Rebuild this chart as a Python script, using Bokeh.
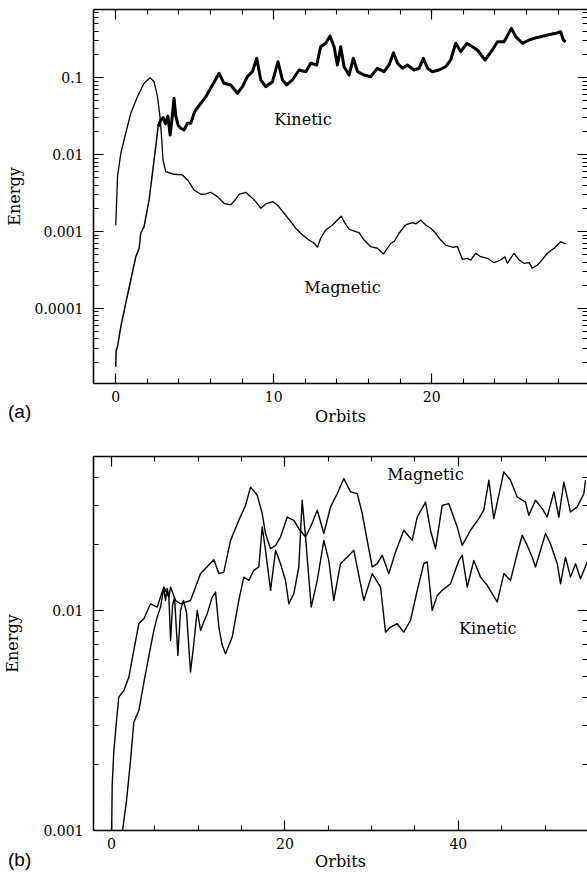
from bokeh.plotting import figure
from bokeh.layouts import column
from bokeh.models import (LinearAxis, LogAxis, FixedTicker, SingleIntervalTicker,
                          CustomJSTickFormatter, Label, Range1d, Div)
from bokeh.embed import file_html
from bokeh.resources import INLINE

# ---------------- data (x in orbits, value = log10 of energy) ----------------
# Panel (a)
mag_a = [(0.00, -2.918), (0.11, -2.287), (0.32, -1.983), (0.63, -1.723), (0.95, -1.463),
         (1.37, -1.247), (1.79, -1.073), (2.17, -1.000), (2.42, -1.052), (2.64, -1.247),
         (2.80, -1.507), (2.91, -1.810), (2.99, -2.070), (3.16, -2.222), (3.69, -2.256),
         (4.22, -2.265), (4.54, -2.330), (4.96, -2.460), (5.38, -2.516), (5.70, -2.512),
         (6.01, -2.490), (6.44, -2.547), (6.85, -2.633), (7.28, -2.655), (7.59, -2.581),
         (7.80, -2.516), (8.23, -2.490), (8.54, -2.547), (8.86, -2.612), (9.18, -2.698),
         (9.49, -2.642), (9.92, -2.612), (10.23, -2.655), (10.65, -2.763), (11.08, -2.873),
         (11.39, -2.958), (11.82, -3.046), (12.23, -3.111), (12.55, -3.153), (12.77, -3.205),
         (12.97, -3.088), (13.29, -2.980), (13.72, -2.915), (14.03, -2.851), (14.28, -2.798),
         (14.45, -2.873), (14.77, -2.971), (15.19, -3.003), (15.40, -3.016), (15.72, -3.111),
         (16.14, -3.198), (16.56, -3.218), (16.94, -3.293), (17.20, -3.218), (17.41, -3.153),
         (17.61, -3.133), (17.93, -3.023), (18.35, -2.915), (18.78, -2.886), (18.99, -2.902),
         (19.30, -2.851), (19.62, -2.915), (19.94, -2.958), (20.25, -3.023), (20.57, -3.111),
         (20.89, -3.176), (21.31, -3.205), (21.63, -3.198), (21.94, -3.362), (22.26, -3.349),
         (22.47, -3.371), (22.78, -3.283), (23.10, -3.328), (23.52, -3.349), (23.94, -3.406),
         (24.37, -3.371), (24.62, -3.328), (24.79, -3.414), (25.21, -3.283), (25.53, -3.371),
         (25.84, -3.414), (26.16, -3.406), (26.37, -3.479), (26.69, -3.436), (27.01, -3.362),
         (27.32, -3.283), (27.74, -3.218), (28.16, -3.133), (28.48, -3.163)]

# kinetic energy, early growth phase (thin trace in the original)
kin_a_early = [(0.00, -4.76), (0.02, -4.55), (0.11, -4.498), (0.32, -4.238), (0.63, -3.934),
               (0.95, -3.631), (1.27, -3.328), (1.48, -3.218), (1.58, -3.023), (1.79, -2.938),
               (2.11, -2.590), (2.32, -2.243), (2.53, -1.897), (2.68, -1.637)]

# kinetic energy, saturated turbulent phase (thick, noisy trace)
kin_a_late = [(2.68, -1.637), (2.85, -1.550),
              (3.00, -1.520), (3.15, -1.600), (3.30, -1.500), (3.44, -1.745), (3.55, -1.550),
              (3.69, -1.268), (3.80, -1.500), (3.95, -1.620), (4.11, -1.658), (4.32, -1.680),
              (4.54, -1.593), (4.75, -1.593), (4.96, -1.463), (5.06, -1.420), (5.38, -1.333),
              (5.70, -1.247), (6.12, -1.095), (6.54, -0.943), (6.85, -1.073), (7.28, -1.095),
              (7.70, -1.203), (8.02, -1.117), (8.33, -0.987), (8.65, -0.922), (8.92, -0.748),
              (9.18, -1.030), (9.49, -1.117), (9.92, -1.052), (10.27, -0.792), (10.55, -1.030),
              (10.82, -1.095), (11.18, -1.030), (11.60, -0.900), (12.03, -0.922), (12.34, -0.813),
              (12.72, -0.835), (12.97, -0.597), (13.29, -0.553), (13.56, -0.458), (13.82, -0.597),
              (14.03, -0.835), (14.24, -0.597), (14.45, -0.857), (14.77, -0.965), (15.04, -0.748),
              (15.30, -0.922), (15.72, -0.965), (16.14, -0.987), (16.56, -0.878), (16.98, -0.922),
              (17.30, -0.835), (17.58, -0.675), (17.83, -0.813), (18.15, -0.878), (18.46, -0.835),
              (18.88, -0.900), (19.20, -0.878), (19.47, -0.748), (19.73, -0.878), (20.04, -0.922),
              (20.46, -0.900), (20.89, -0.857), (21.20, -0.770), (21.52, -0.553), (21.84, -0.662),
              (22.22, -0.553), (22.58, -0.597), (22.89, -0.640), (23.37, -0.770), (23.84, -0.640),
              (24.16, -0.532), (24.58, -0.532), (25.04, -0.358), (25.32, -0.467), (25.74, -0.553),
              (26.16, -0.510), (26.47, -0.488), (26.90, -0.467), (27.32, -0.445), (27.85, -0.423),
              (28.16, -0.402), (28.33, -0.510), (28.48, -0.532)]

# Panel (b)
mag_b = [(0.00, -3.05), (0.08, -2.788), (0.27, -2.636), (0.58, -2.500), (0.84, -2.394),
         (1.42, -2.364), (2.00, -2.303), (2.57, -2.182), (3.15, -2.060), (3.73, -2.038),
         (4.50, -1.970), (5.27, -1.985), (6.03, -1.894), (6.61, -1.940), (6.81, -1.894),
         (7.38, -1.955), (7.96, -1.970), (9.11, -1.955), (10.27, -1.833), (10.84, -1.810),
         (11.80, -1.770), (12.38, -1.833), (12.95, -1.826), (13.73, -1.682), (14.68, -1.591),
         (15.46, -1.523), (16.03, -1.440), (16.81, -1.477), (17.38, -1.560), (17.76, -1.651),
         (18.34, -1.720), (18.92, -1.705), (19.49, -1.667), (20.27, -1.576), (21.03, -1.591),
         (21.60, -1.629), (22.38, -1.667), (22.95, -1.621), (23.73, -1.545), (24.49, -1.651),
         (25.26, -1.530), (26.03, -1.470), (26.79, -1.401), (27.57, -1.462), (28.34, -1.470),
         (28.92, -1.560), (29.49, -1.682), (30.07, -1.803), (30.65, -1.788), (31.22, -1.750),
         (31.98, -1.833), (32.76, -1.735), (33.71, -1.636), (34.68, -1.682), (35.26, -1.576),
         (36.22, -1.508), (36.79, -1.636), (37.37, -1.720), (38.14, -1.523), (38.90, -1.515),
         (39.87, -1.621), (40.45, -1.705), (41.41, -1.636), (42.36, -1.583), (42.94, -1.545),
         (43.52, -1.409), (44.09, -1.583), (45.25, -1.371), (46.02, -1.409), (46.79, -1.485),
         (47.75, -1.508), (48.13, -1.568), (48.90, -1.500), (49.68, -1.538), (50.25, -1.576),
         (51.02, -1.462), (51.59, -1.576), (52.17, -1.417), (52.94, -1.553), (53.71, -1.530),
         (54.48, -1.470), (54.67, -1.409)]

kin_b = [(1.10, -3.05), (1.73, -2.864), (2.19, -2.682), (2.57, -2.508), (3.15, -2.455),
         (3.81, -2.310), (4.50, -2.167), (4.88, -2.091), (5.27, -2.030), (5.65, -1.985),
         (6.03, -1.900), (6.23, -1.955), (6.42, -1.900), (6.61, -1.936), (6.81, -2.136),
         (7.04, -1.977), (7.27, -1.941), (7.65, -2.205), (7.96, -2.000), (8.30, -1.955),
         (8.65, -2.009), (9.11, -2.280), (9.49, -2.151), (9.88, -2.000), (10.27, -2.091),
         (10.61, -2.055), (11.04, -2.015), (11.61, -1.940), (12.00, -1.917), (12.38, -2.076),
         (12.77, -2.159), (13.15, -2.197), (13.92, -2.121), (14.68, -1.955), (15.26, -1.849),
         (15.84, -1.864), (16.41, -1.818), (16.99, -1.803), (17.38, -1.621), (17.76, -1.727),
         (18.34, -1.909), (18.92, -1.727), (19.49, -1.788), (20.07, -1.864), (20.45, -1.970),
         (21.03, -1.924), (21.60, -1.803), (21.99, -1.500), (22.38, -1.667), (23.03, -1.985),
         (23.73, -1.864), (24.49, -1.682), (25.06, -1.773), (25.64, -1.955), (26.41, -1.788),
         (27.19, -1.758), (27.95, -1.727), (29.10, -1.955), (30.07, -1.833), (31.03, -1.894),
         (31.60, -2.099), (32.18, -2.076), (32.95, -2.060), (33.71, -2.099), (34.49, -2.045),
         (35.26, -1.909), (36.02, -1.788), (36.41, -1.780), (36.99, -2.000), (37.57, -1.932),
         (38.14, -1.909), (39.10, -1.879), (40.06, -1.773), (40.45, -1.750), (41.03, -1.894),
         (41.79, -1.773), (42.56, -1.849), (43.33, -1.886), (44.49, -1.962), (45.25, -1.833),
         (46.02, -1.864), (46.79, -1.742), (47.37, -1.659), (47.95, -1.705), (48.52, -1.758),
         (48.90, -1.803), (49.48, -1.727), (50.06, -1.651), (50.63, -1.697), (51.41, -1.788),
         (51.79, -1.879), (52.36, -1.758), (52.94, -1.849), (53.52, -1.788), (54.09, -1.856),
         (54.87, -1.780)]

ya_major = [1e-4, 1e-3, 1e-2, 1e-1]
yb_major = [1e-3, 1e-2]

SERIF = "DejaVu Serif"


def xs(series):
    return [p[0] for p in series]


def ys(series):
    return [10 ** p[1] for p in series]


def minor_log(lo_exp, hi_exp):
    return [m * 10.0 ** e for e in range(lo_exp, hi_exp) for m in range(2, 10)]


def style(ax, labels=True):
    ax.major_tick_in = 10
    ax.major_tick_out = 0
    ax.minor_tick_in = 5
    ax.minor_tick_out = 0
    ax.major_tick_line_color = "black"
    ax.minor_tick_line_color = "black"
    ax.major_tick_line_width = 1.2
    ax.minor_tick_line_width = 1.1
    ax.axis_line_color = "black"
    ax.axis_line_width = 1.6
    ax.major_label_text_font = SERIF
    ax.major_label_text_font_size = "14px"
    ax.major_label_text_color = "black"
    ax.axis_label_text_font = SERIF
    ax.axis_label_text_font_size = "16px"
    ax.axis_label_text_font_style = "normal"
    ax.axis_label_text_color = "black"
    if not labels:
        ax.formatter = CustomJSTickFormatter(code="return '';")
        ax.major_label_text_font_size = "1px"
        ax.major_label_text_alpha = 0
        ax.major_label_standoff = 0


fmt_code = "return tick.toString();"


def make_panel(height, border_top, border_bottom, x_range, y_range, x_interval, x_minor,
               y_major, y_minor, ylab_standoff, xlab_standoffs):
    p = figure(width=587, height=height, y_axis_type="log",
               x_range=Range1d(*x_range), y_range=Range1d(*y_range),
               output_backend="svg", toolbar_location=None,
               min_border_left=93, min_border_right=0,
               min_border_top=border_top, min_border_bottom=border_bottom)
    p.outline_line_color = None
    p.xgrid.grid_line_color = None
    p.ygrid.grid_line_color = None
    p.background_fill_color = "white"
    p.border_fill_color = "white"

    xt = SingleIntervalTicker(interval=x_interval, num_minor_ticks=x_minor)
    yt = FixedTicker(ticks=y_major, minor_ticks=y_minor)

    xb = p.xaxis[0]
    xb.ticker = xt
    style(xb)
    xb.axis_label = "Orbits"
    xb.major_label_standoff = xlab_standoffs[0]
    xb.axis_label_standoff = xlab_standoffs[1]

    yl = p.yaxis[0]
    yl.ticker = yt
    yl.formatter = CustomJSTickFormatter(code=fmt_code)
    style(yl)
    yl.axis_label = "Energy"
    yl.major_label_standoff = 10
    yl.axis_label_standoff = ylab_standoff

    xtop = LinearAxis(ticker=SingleIntervalTicker(interval=x_interval, num_minor_ticks=x_minor))
    style(xtop, labels=False)
    p.add_layout(xtop, "above")

    yr = LogAxis(ticker=FixedTicker(ticks=y_major, minor_ticks=y_minor))
    style(yr, labels=False)
    yr.axis_line_color = None
    p.add_layout(yr, "right")
    return p


# ---------------- panel (a) ----------------
pa = make_panel(430, 9, 47, (-1.41, 29.86), (1.055e-5, 0.77), 10, 5,
                ya_major, minor_log(-5, 0), 8, (7, 2))
pa.line(xs(mag_a), ys(mag_a), line_color="black", line_width=1.3)
pa.line(xs(kin_a_early), ys(kin_a_early), line_color="black", line_width=1.5,
        line_join="round")
pa.line(xs(kin_a_late), ys(kin_a_late), line_color="black", line_width=3.0,
        line_join="round")

for txt, x, y in [("Kinetic", 11.85, 0.029), ("Magnetic", 14.35, 1.86e-4)]:
    pa.add_layout(Label(x=x, y=y, text=txt, text_font=SERIF, text_font_size="16px",
                        text_align="center", text_baseline="middle", text_color="black"))

# ---------------- panel (b) ----------------
pb = make_panel(443, 26, 43, (-2.08, 54.9), (0.001, 0.05), 20, 4,
                yb_major, minor_log(-3, -1), 18, (7, 0))
pb.line(xs(mag_b), ys(mag_b), line_color="black", line_width=1.4, line_join="round")
pb.line(xs(kin_b), ys(kin_b), line_color="black", line_width=1.4, line_join="round")

for txt, x, y in [("Magnetic", 36.2, 0.0414), ("Kinetic", 43.4, 0.00826)]:
    pb.add_layout(Label(x=x, y=y, text=txt, text_font=SERIF, text_font_size="16px",
                        text_align="center", text_baseline="middle", text_color="black"))

# panel tags "(a)" and "(b)" sit in the lower-left corners, outside the frames
tag_style = {"font-family": "Liberation Sans", "font-size": "19px", "color": "black",
             "line-height": "20px"}
tag_a = Div(text="(a)", width=40, height=20, margin=(-28, 0, 8, 8), styles=tag_style)
tag_b = Div(text="(b)", width=40, height=20, margin=(-23, 0, 0, 8), styles=tag_style)

layout = column(pa, tag_a, pb, tag_b, spacing=0)
open("out.html", "w").write(file_html(layout, INLINE))
